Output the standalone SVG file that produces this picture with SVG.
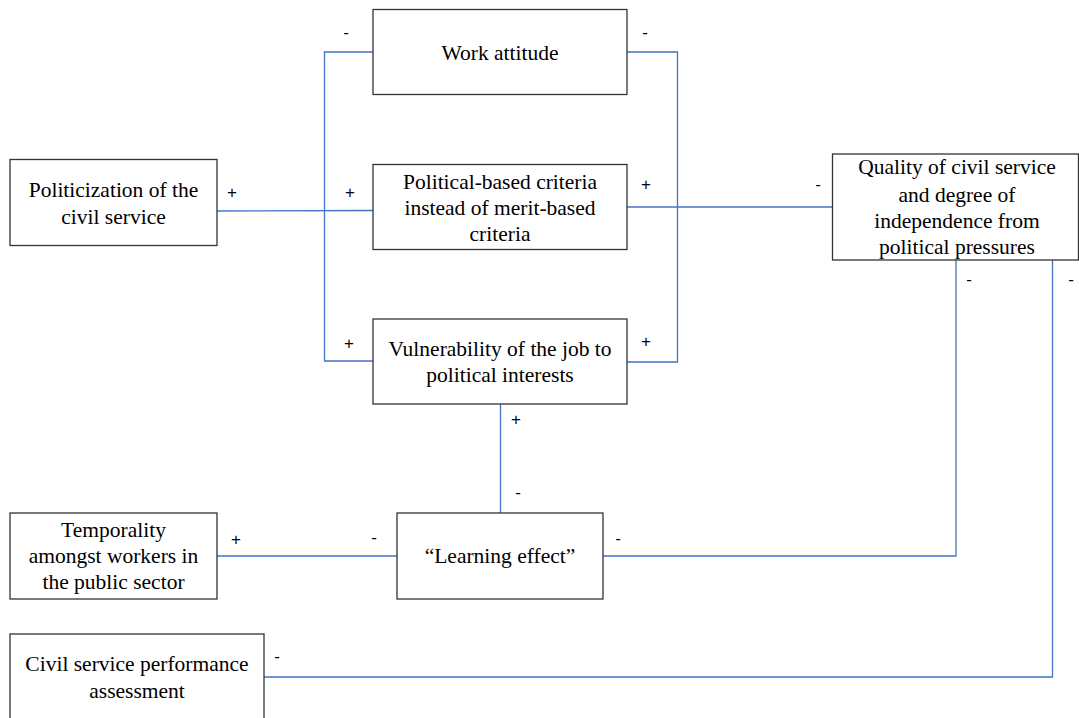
<svg xmlns="http://www.w3.org/2000/svg" width="1079" height="718" viewBox="0 0 1079 718">
<style>
.box{fill:#fff;stroke:#333;stroke-width:1.3}
.t{font-family:'Liberation Serif',serif;font-size:21.5px;fill:#000;text-anchor:middle}
.s{font-family:'Liberation Sans',sans-serif;font-size:17px;fill:#000;text-anchor:middle}
.c{fill:none;stroke:#4472C4;stroke-width:1.3}
</style>
<rect width="1079" height="718" fill="#fff"/>
<g id="connectors">
<path class="c" d="M373,52 H324.5 V361 H373"/>
<path class="c" d="M627,52 H677.5 V362 H627"/>
<path class="c" d="M217,211 L373,210.5"/>
<path class="c" d="M627,207 H832"/>
<path class="c" d="M500.5,404 V513"/>
<path class="c" d="M217,556 H397"/>
<path class="c" d="M603,556 H956 V260"/>
<path class="c" d="M1052.5,260 V677 H264"/>
</g>
<g id="work-attitude">
<rect class="box" x="373" y="9.5" width="254" height="85"/>
<text class="t" x="500" y="60">Work attitude</text>
</g>
<g id="politicization">
<rect class="box" x="10" y="159.5" width="207" height="86"/>
<text class="t" x="113.5" y="197">Politicization of the</text>
<text class="t" x="113.5" y="224">civil service</text>
</g>
<g id="political-criteria">
<rect class="box" x="373" y="164.5" width="254" height="85"/>
<text class="t" x="500" y="189">Political-based criteria</text>
<text class="t" x="500" y="215">instead of merit-based</text>
<text class="t" x="500" y="241">criteria</text>
</g>
<g id="quality">
<rect class="box" x="832.5" y="154" width="246" height="106"/>
<text class="t" x="957" y="174">Quality of civil service</text>
<text class="t" x="957" y="202">and degree of</text>
<text class="t" x="957" y="228">independence from</text>
<text class="t" x="957" y="254">political pressures</text>
</g>
<g id="vulnerability">
<rect class="box" x="373" y="319" width="254" height="85"/>
<text class="t" x="500" y="356">Vulnerability of the job to</text>
<text class="t" x="500" y="382">political interests</text>
</g>
<g id="temporality">
<rect class="box" x="10" y="513" width="207" height="86"/>
<text class="t" x="113.5" y="537">Temporality</text>
<text class="t" x="113.5" y="563">amongst workers in</text>
<text class="t" x="113.5" y="589">the public sector</text>
</g>
<g id="learning-effect">
<rect class="box" x="397" y="513" width="206" height="86"/>
<text class="t" x="500" y="563">“Learning effect”</text>
</g>
<g id="performance-assessment">
<rect class="box" x="10" y="634" width="254" height="100"/>
<text class="t" x="137" y="671">Civil service performance</text>
<text class="t" x="137" y="698">assessment</text>
</g>
<g id="signs">
<text class="s" x="346" y="38">-</text>
<text class="s" x="645" y="38">-</text>
<text class="s" x="232" y="198">+</text>
<text class="s" x="350" y="198">+</text>
<text class="s" x="646" y="190">+</text>
<text class="s" x="818" y="190">-</text>
<text class="s" x="969" y="285">-</text>
<text class="s" x="1071" y="285">-</text>
<text class="s" x="349" y="349">+</text>
<text class="s" x="646" y="347">+</text>
<text class="s" x="516" y="425">+</text>
<text class="s" x="518" y="498">-</text>
<text class="s" x="236" y="545">+</text>
<text class="s" x="374" y="543">-</text>
<text class="s" x="618" y="544">-</text>
<text class="s" x="277" y="662">-</text>
</g>
</svg>
